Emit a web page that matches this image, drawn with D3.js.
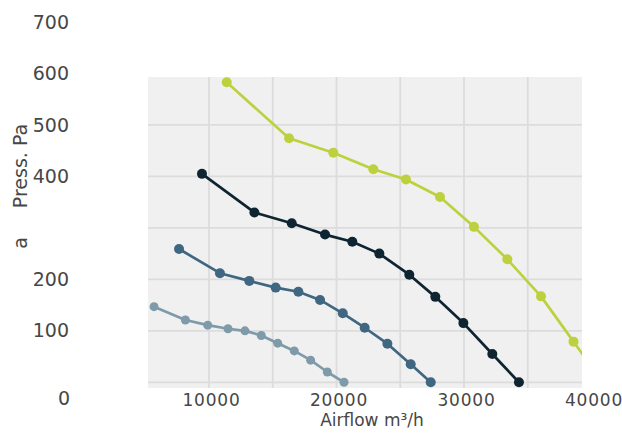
<!DOCTYPE html>
<html><head><meta charset="utf-8">
<script src="https://cdn.jsdelivr.net/npm/d3@7"></script>
<style>
html,body{margin:0;padding:0;background:#fff;}
svg text{font-family:"DejaVu Sans",sans-serif;fill:#474747;}
</style></head>
<body><svg id="c" width="622" height="437"></svg>
<script>
// ---- data ----
const lightX = [5690, 8150, 9900, 11490, 12820, 14100, 15390, 16690, 17970, 19280, 20590];
const lightY = [147, 121, 111, 104, 100, 91, 76, 61, 43, 20, 0];
const steelX = [7650, 10860, 13160, 15230, 17010, 18710, 20490, 22210, 23990, 25820, 27390];
const steelY = [259, 212, 197, 184, 176, 160, 134, 106, 75, 35, 0];
const navyX = [9450, 13560, 16490, 19100, 21240, 23360, 25710, 27750, 29950, 32220, 34310];
const navyY = [405, 330, 309, 287, 273, 250, 209, 166, 115, 55, 0];
const greenX = [11390, 16280, 19750, 22890, 25450, 28120, 30780, 33400, 36040, 38590, 40000];
const greenY = [583, 474, 446, 414, 394, 360, 302, 239, 167, 79, 30];
const xTicks = [10000, 20000, 30000, 40000];
const yTicks = [100, 200, 400, 500, 600, 700];
const xGrid = [10000, 15000, 20000, 25000, 30000, 35000];
const yGrid = [0, 100, 200, 300, 400, 500];
const seriesNames = ["light", "steel", "navy", "green"];
const seriesColors = ["#7f9aa9", "#3f6781", "#0f2431", "#bdd13f"];

const series = [
  {name: seriesNames[0], xs: lightX, ys: lightY, color: seriesColors[0], r: 4.5},
  {name: seriesNames[1], xs: steelX, ys: steelY, color: seriesColors[1], r: 5},
  {name: seriesNames[2], xs: navyX, ys: navyY, color: seriesColors[2], r: 5},
  {name: seriesNames[3], xs: greenX, ys: greenY, color: seriesColors[3], r: 5}
];

const svg = d3.select("#c");
const plot = {x0: 148, x1: 582, y0: 77, y1: 388};

const x = d3.scaleLinear().domain([10000, 30000]).range([209, 464]);
const y = d3.scaleLinear().domain([0, 700]).range([382.3, 22]);

// plot background
svg.append("rect").attr("x", plot.x0).attr("y", plot.y0)
  .attr("width", plot.x1 - plot.x0).attr("height", plot.y1 - plot.y0)
  .attr("fill", "#f0f0f0");

svg.append("clipPath").attr("id", "clip").append("rect")
  .attr("x", plot.x0).attr("y", plot.y0)
  .attr("width", plot.x1 - plot.x0).attr("height", plot.y1 - plot.y0);

const grid = svg.append("g").attr("clip-path", "url(#clip)");
grid.selectAll("line.v").data(xGrid).join("line").attr("class", "v")
  .attr("x1", d => x(d)).attr("x2", d => x(d))
  .attr("y1", plot.y0).attr("y2", plot.y1)
  .attr("stroke", "#dcdcdc").attr("stroke-width", 1.8);
grid.selectAll("line.h").data(yGrid).join("line").attr("class", "h")
  .attr("y1", d => y(d)).attr("y2", d => y(d))
  .attr("x1", plot.x0).attr("x2", plot.x1)
  .attr("stroke", "#dcdcdc").attr("stroke-width", 1.8);

// series
const g = svg.append("g").attr("clip-path", "url(#clip)");
const line = d3.line().x(d => x(d[0])).y(d => y(d[1]));
series.forEach(s => {
  const pts = s.xs.map((v, i) => [v, s.ys[i]]);
  g.append("path").datum(pts).attr("d", line)
    .attr("fill", "none").attr("stroke", s.color).attr("stroke-width", 2.7)
    .attr("stroke-linejoin", "round");
  g.selectAll(null).data(pts).join("circle")
    .attr("cx", d => x(d[0])).attr("cy", d => y(d[1])).attr("r", s.r)
    .attr("fill", s.color);
});

// x axis
const xa = svg.append("g").attr("transform", `translate(0,${plot.y1})`)
  .call(d3.axisBottom(x).tickValues(xTicks).tickSize(0).tickPadding(6).tickFormat(d3.format("d")));
xa.select(".domain").remove();
xa.selectAll("text").attr("font-size", 17).attr("dx", 2)
  .style("letter-spacing", "0.8px").attr("fill", "#474747");

// y axis
const ya = svg.append("g").attr("transform", "translate(69,0)")
  .call(d3.axisLeft(y).tickValues(yTicks).tickSize(0).tickPadding(0));
ya.select(".domain").remove();
ya.selectAll("text").attr("font-size", 19).attr("fill", "#474747");

// corner zero label
svg.append("text").attr("x", 70).attr("y", 405).attr("text-anchor", "end")
  .attr("font-size", 19).text("0");

// titles
svg.append("text").attr("x", 372).attr("y", 426).attr("text-anchor", "middle")
  .attr("font-size", 17).text("Airflow m³/h");
svg.append("text").attr("transform", "translate(27,166) rotate(-90)")
  .attr("text-anchor", "middle").attr("font-size", 19).text("Press. Pa");
svg.append("text").attr("transform", "translate(27,243) rotate(-90)")
  .attr("text-anchor", "middle").attr("font-size", 19).text("a");
</script></body></html>
